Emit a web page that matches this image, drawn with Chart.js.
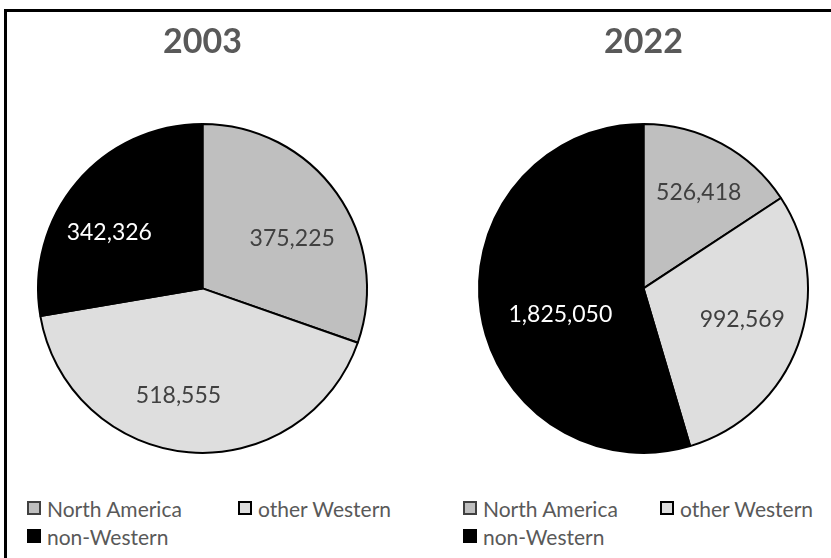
<!DOCTYPE html>
<html>
<head>
<meta charset="utf-8">
<script src="https://cdn.jsdelivr.net/npm/chart.js@4/dist/chart.umd.min.js"></script>
<style>
  html, body { margin: 0; padding: 0; background: #fff; }
  body { width: 831px; height: 558px; position: relative; overflow: hidden; font-family: Lato, "Noto Sans", sans-serif; }
  #frame { position: absolute; left: 4px; top: 9px; width: 900px; height: 700px; border: 3px solid #000; box-sizing: border-box; }
  .wrap { position: absolute; top: 0; width: 410px; height: 470px; }
  .legend { position: absolute; font-size: 21px; color: #595959; }
  .item { position: absolute; white-space: nowrap; display: flex; align-items: center; height: 24px; }
  .box { width: 14px; height: 14px; box-sizing: border-box; border: 2px solid #000; margin-right: 6px; }
</style>
</head>
<body>
<div id="frame"></div>
<div class="wrap" style="left:0px"><canvas id="c1"></canvas></div>
<div class="wrap" style="left:420px"><canvas id="c2"></canvas></div>
<div class="legend" id="leg1" style="left:0px;top:0px"></div>
<div class="legend" id="leg2" style="left:0px;top:0px"></div>
<script>
// ---- data ----
const categories = ["North America", "other Western", "non-Western"];
const values2003 = [375225, 518555, 342326];
const values2022 = [526418, 992569, 1825050];
const chartTitles = ["2003", "2022"];
const sliceColors = ["#bfbfbf", "#dedede", "#000000"];

const labelPlugin = {
  id: "sliceLabels",
  afterDatasetsDraw(chart) {
    const ctx = chart.ctx;
    const meta = chart.getDatasetMeta(0);
    const ds = chart.data.datasets[0];
    const place = chart.options.plugins.sliceLabels.place || [];
    ctx.save();
    ctx.font = "23px Lato, 'Noto Sans', sans-serif";
    ctx.textAlign = "center";
    ctx.textBaseline = "middle";
    meta.data.forEach((arc, i) => {
      const p = arc.getProps(["x", "y", "startAngle", "endAngle", "outerRadius"], true);
      const adj = place[i] || [0, 0.64];
      const mid = (p.startAngle + p.endAngle) / 2 + adj[0];
      const r = p.outerRadius * adj[1];
      const x = p.x + Math.cos(mid) * r;
      const y = p.y + Math.sin(mid) * r;
      ctx.fillStyle = ds.backgroundColor[i] === "#000000" ? "#ffffff" : "#404040";
      ctx.fillText(ds.data[i].toLocaleString("en-US"), x, y);
    });
    ctx.restore();
  }
};

function makePie(id, title, values, padding, place) {
  return new Chart(document.getElementById(id), {
    type: "pie",
    data: {
      labels: categories,
      datasets: [{
        data: values,
        backgroundColor: sliceColors,
        borderColor: "#000000",
        borderWidth: 2
      }]
    },
    options: {
      responsive: true,
      maintainAspectRatio: false,
      animation: false,
      layout: { padding: padding },
      plugins: {
        legend: { display: false },
        tooltip: { enabled: false },
        title: {
          display: true,
          text: title,
          color: "#595959",
          font: { family: "Lato, 'Noto Sans', sans-serif", size: 34, weight: "bold" },
          padding: { top: 0, bottom: 60 }
        },
        sliceLabels: { place: place }
      }
    },
    plugins: [labelPlugin]
  });
}

const ch1 = makePie("c1", chartTitles[0], values2003,
  { top: 22, left: 37, right: 42, bottom: 16 },
  [[0.107, 0.625], [0.136, 0.67], [-0.162, 0.66]]);
const ch2 = makePie("c2", chartTitles[1], values2022,
  { top: 22, left: 58, right: 21, bottom: 16 },
  [[0.03, 0.67], [-0.044, 0.63], [-0.163, 0.53]]);

function buildLegend(elId, chart, x0, x1) {
  const el = document.getElementById(elId);
  const ds = chart.data.datasets[0];
  const pos = [[x0, 496], [x1, 496], [x0, 524]];
  chart.data.labels.forEach((lab, i) => {
    const it = document.createElement("div");
    it.className = "item";
    it.style.left = pos[i][0] + "px";
    it.style.top = pos[i][1] + "px";
    const b = document.createElement("span");
    b.className = "box";
    b.style.background = ds.backgroundColor[i];
    if (i === 0) b.style.borderColor = "#404040";
    const t = document.createElement("span");
    t.textContent = lab;
    it.appendChild(b); it.appendChild(t);
    el.appendChild(it);
  });
}
buildLegend("leg1", ch1, 27, 238);
buildLegend("leg2", ch2, 463, 660);
</script>
</body>
</html>
